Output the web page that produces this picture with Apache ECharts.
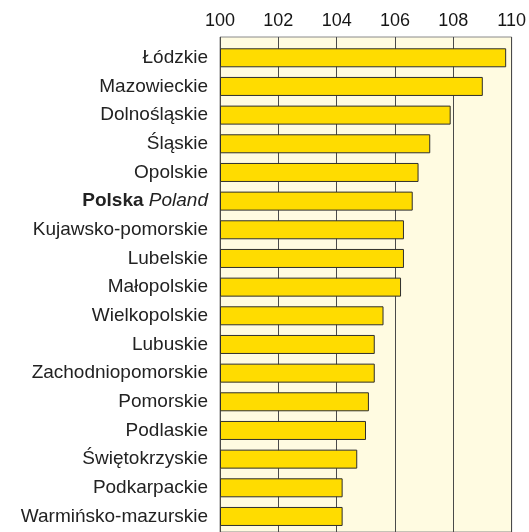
<!DOCTYPE html>
<html>
<head>
<meta charset="utf-8">
<script src="https://cdn.jsdelivr.net/npm/echarts@6/dist/echarts.min.js"></script>
<style>
html,body{margin:0;padding:0;background:#fff;}
#c{width:529px;height:532px;}
</style>
</head>
<body>
<div id="c"></div>
<script>
const categories = [
  'Łódzkie','Mazowieckie','Dolnośląskie','Śląskie','Opolskie','Polska Poland',
  'Kujawsko-pomorskie','Lubelskie','Małopolskie','Wielkopolskie','Lubuskie',
  'Zachodniopomorskie','Pomorskie','Podlaskie','Świętokrzyskie','Podkarpackie',
  'Warmińsko-mazurskie'
];
const values = [109.8,109.0,107.9,107.2,106.8,106.6,106.3,106.3,106.2,105.6,105.3,105.3,105.1,105.0,104.7,104.2,104.2];
const xMin = 100, xMax = 110, xStep = 2;

const FONT = '"Liberation Sans", Arial, Helvetica, sans-serif';
const chart = echarts.init(document.getElementById('c'), null, {renderer:'canvas'});
chart.setOption({
  animation: false,
  grid: [
    {left:220, right:17, top:43.45, bottom:1.2, containLabel:false},
    {left:220, right:17, top:37, bottom:0, show:true, backgroundColor:'#FFFBE1', borderColor:'#8a8a8a', borderWidth:1, z:0}
  ],
  xAxis: [
    {gridIndex:0, type:'value', min:xMin, max:xMax, interval:xStep, startValue:xMin, show:false, splitLine:{show:false}},
    {gridIndex:1, type:'value', position:'top', min:xMin, max:xMax, interval:xStep,
     axisLine:{show:false}, axisTick:{show:false},
     axisLabel:{fontFamily:FONT, fontSize:18, color:'#151515', margin:7},
     splitLine:{show:true, lineStyle:{color:'#4a4a4a', width:1}}}
  ],
  yAxis: [
    {gridIndex:0, type:'category', data:categories, inverse:true,
     axisLine:{show:false}, axisTick:{show:false}, splitLine:{show:false},
     axisLabel:{fontFamily:FONT, fontSize:19, color:'#222222', margin:12,
       formatter: function(v){
         if (v === 'Polska Poland') return '{b|Polska} {i|Poland}';
         return v;
       },
       rich:{
         b:{fontFamily:FONT, fontSize:19, fontWeight:'bold', color:'#222222'},
         i:{fontFamily:FONT, fontSize:19, fontStyle:'italic', color:'#222222'}
       }}},
    {gridIndex:1, type:'value', min:0, max:1, show:false, splitLine:{show:false}}
  ],
  series: [{
    type:'bar', xAxisIndex:0, yAxisIndex:0, data:values, barWidth:19,
    itemStyle:{color:'#FFDC00', borderColor:'#2e2e2e', borderWidth:1},
    z:5
  }]
});
</script>
</body>
</html>
